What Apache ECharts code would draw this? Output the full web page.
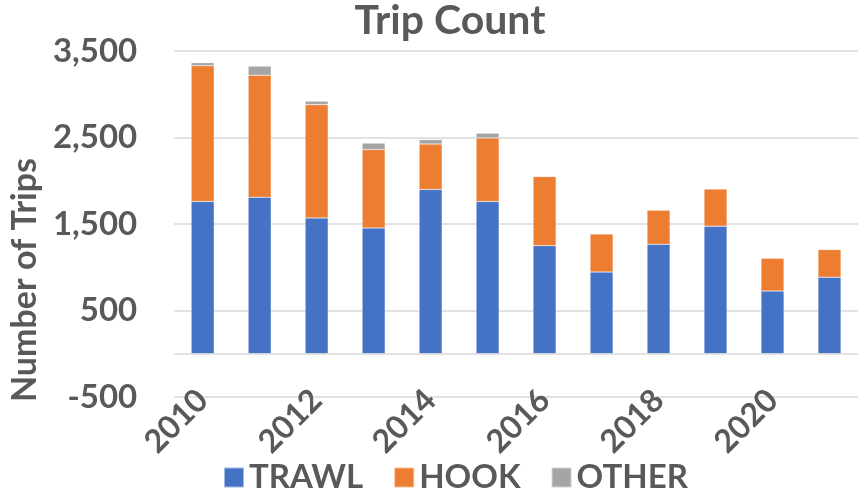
<!DOCTYPE html>
<html>
<head>
<meta charset="utf-8">
<script src="https://cdn.jsdelivr.net/npm/echarts@6/dist/echarts.min.js"></script>
<style>
  html, body { margin: 0; padding: 0; background: #fff; }
  #chart { width: 858px; height: 492px; }
</style>
</head>
<body>
<div id="chart"></div>
<script>
// data
const years = ["2010", "2011", "2012", "2013", "2014", "2015", "2016", "2017", "2018", "2019", "2020", "2021"];
const trawl = [1760, 1810, 1570, 1455, 1900, 1760, 1250, 945, 1265, 1475, 725, 885];
const hook = [1570, 1410, 1310, 905, 525, 735, 800, 440, 395, 430, 380, 320];
const other = [35, 105, 40, 75, 50, 55, 5, 5, 5, 5, 5, 5];

const textColor = "#595959";
const gridColor = "#D9D9D9";
const font = "Lato";

var chartDom = document.getElementById("chart");
var myChart = echarts.init(chartDom);

const barSeries = (name, data, color) => ({
  name: name,
  type: "bar",
  stack: "trips",
  data: data,
  barWidth: 23,
  itemStyle: { color: color, borderColor: "rgba(255,255,255,0.5)", borderWidth: 0.5 }
});

var trawlSeries = barSeries("TRAWL", trawl, "#4472C4");
// zero line like excel's category axis
trawlSeries.markLine = {
  silent: true,
  symbol: "none",
  label: { show: false },
  lineStyle: { color: gridColor, type: "solid", width: 1.5 },
  data: [{ yAxis: 0 }]
};

var option = {
  animation: false,
  title: {
    text: "Trip Count",
    left: 450,
    textAlign: "center",
    top: 0,
    padding: 0,
    textStyle: { fontFamily: font, fontWeight: "bold", fontSize: 41, color: textColor }
  },
  legend: {
    left: 223,
    top: 461,
    padding: 0,
    itemWidth: 20,
    itemHeight: 20,
    itemGap: 30,
    icon: "rect",
    textStyle: { fontFamily: font, fontWeight: "bold", fontSize: 33, color: textColor }
  },
  grid: { left: 165, top: 51, width: 709, height: 346 },
  xAxis: {
    type: "category",
    data: years,
    axisLine: { show: false, onZero: false },
    axisTick: { show: false },
    axisLabel: {
      interval: 1,
      rotate: 45,
      margin: -2,
      fontFamily: font,
      fontWeight: "bold",
      fontSize: 32,
      color: textColor
    }
  },
  yAxis: {
    type: "value",
    min: -500,
    max: 3500,
    interval: 1000,
    name: "Number of Trips",
    nameLocation: "middle",
    nameGap: 107,
    nameTextStyle: {
      fontFamily: font,
      fontWeight: "bold",
      fontSize: 34,
      color: textColor,
      padding: [0, 112, 0, 0]
    },
    axisLine: { show: false },
    axisTick: { show: false },
    splitLine: { lineStyle: { color: gridColor, width: 1.5 } },
    axisLabel: {
      margin: 37,
      fontFamily: font,
      fontWeight: "bold",
      fontSize: 33,
      color: textColor,
      formatter: (v) => v.toLocaleString("en-US")
    }
  },
  series: [
    trawlSeries,
    barSeries("HOOK", hook, "#ED7D31"),
    barSeries("OTHER", other, "#A5A5A5")
  ]
};

myChart.setOption(option);
</script>
</body>
</html>
